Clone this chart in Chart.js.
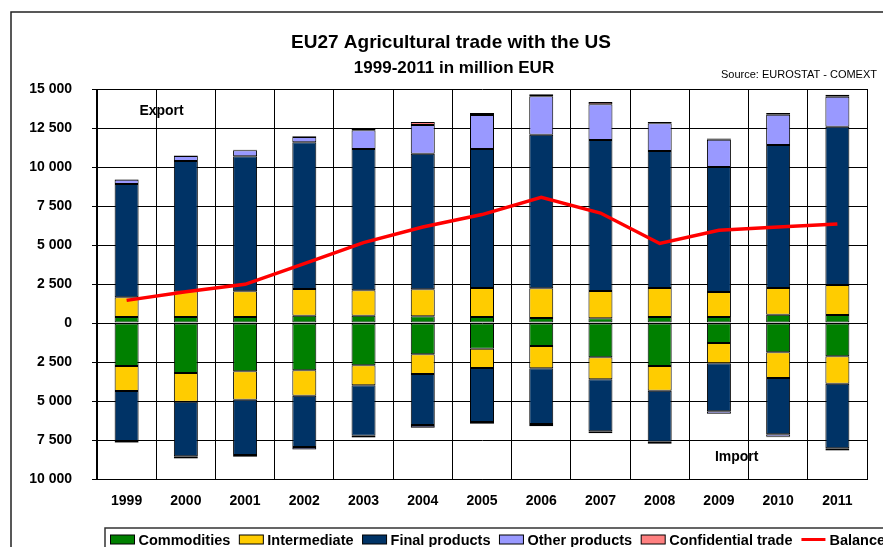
<!DOCTYPE html>
<html>
<head>
<meta charset="utf-8">
<title>EU27 Agricultural trade with the US</title>
<script src="https://cdn.jsdelivr.net/npm/chart.js@4.4.1/dist/chart.umd.min.js"></script>
<style>
  html, body { margin: 0; padding: 0; background: #fff; overflow: hidden; }
</style>
</head>
<body>
<canvas id="chart" width="883" height="547"></canvas>
<script>
const FONT = '"Liberation Sans", Arial, Helvetica, sans-serif';

// ── Data (million EUR) ─────────────────────────────────────────
const years = ['1999', '2000', '2001', '2002', '2003', '2004', '2005', '2006', '2007', '2008', '2009', '2010', '2011'];

// exports (drawn above zero)
const exportCommodities  = [385, 385, 385, 470, 470, 427, 385, 320, 299, 385, 385, 534, 513];
const exportIntermediate = [1260, 1645, 1645, 1710, 1624, 1731, 1859, 1902, 1753, 1859, 1602, 1710, 1923];
const exportFinal        = [7266, 8356, 8655, 9403, 9061, 8698, 8911, 9852, 9680, 8783, 8014, 9168, 10151];
const exportOther        = [279, 320, 385, 342, 1197, 1838, 2180, 2458, 2287, 1773, 1753, 1944, 1924];
const exportConfidential = [20, 30, 30, 40, 100, 190, 130, 130, 150, 80, 80, 100, 120];

// imports (drawn below zero)
const importCommodities  = [2757, 3206, 3099, 3035, 2714, 2009, 1645, 1475, 2201, 2757, 1282, 1881, 2137];
const importIntermediate = [1603, 1837, 1816, 1624, 1282, 1261, 1240, 1431, 1411, 1581, 1304, 1645, 1752];
const importFinal        = [3205, 3505, 3548, 3291, 3227, 3269, 3462, 3569, 3333, 3270, 3077, 3612, 4146];
const importOther        = [100, 120, 110, 140, 110, 150, 110, 130, 110, 130, 150, 160, 130];
const importConfidential = [20, 30, 20, 30, 20, 40, 20, 20, 20, 20, 20, 30, 20];

const balance = [1450, 2000, 2480, 3800, 5150, 6150, 6950, 8050, 7050, 5100, 5950, 6150, 6350];

const yTicks = { min: -10000, max: 15000, step: 2500 };

const COLORS = {
  commodities: '#008000',
  intermediate: '#FFCC00',
  final: '#003366',
  other: '#9999FF',
  confidential: '#FF8080',
  balance: '#FF0000'
};

function barSet(label, values, color, sign, inLegend) {
  return {
    type: 'bar',
    label,
    data: values.map(v => v * sign),
    backgroundColor: color,
    borderColor: '#000',
    borderWidth: 1,
    borderSkipped: false,
    stack: 'trade',
    order: 1,
    inLegend
  };
}

const datasets = [
  barSet('Commodities', exportCommodities, COLORS.commodities, 1, true),
  barSet('Intermediate', exportIntermediate, COLORS.intermediate, 1, true),
  barSet('Final products', exportFinal, COLORS.final, 1, true),
  barSet('Other products', exportOther, COLORS.other, 1, true),
  barSet('Confidential trade', exportConfidential, COLORS.confidential, 1, true),
  barSet('Commodities', importCommodities, COLORS.commodities, -1, false),
  barSet('Intermediate', importIntermediate, COLORS.intermediate, -1, false),
  barSet('Final products', importFinal, COLORS.final, -1, false),
  barSet('Other products', importOther, COLORS.other, -1, false),
  barSet('Confidential trade', importConfidential, COLORS.confidential, -1, false),
  {
    type: 'line',
    label: 'Balance',
    data: balance,
    borderColor: COLORS.balance,
    backgroundColor: COLORS.balance,
    borderWidth: 3.5,
    pointRadius: 0,
    tension: 0,
    stack: 'balance',
    order: 0,
    inLegend: true
  }
];

const fmt = v => String(Math.abs(v)).replace(/\B(?=(\d{3})+(?!\d))/g, ' ');

// titles, frame, Export/Import notes and the boxed legend
const decorations = {
  id: 'decorations',
  afterDraw(chart) {
    const { ctx, scales: { x, y } } = chart;
    ctx.save();

    ctx.strokeStyle = '#222';
    ctx.lineWidth = 1.5;
    ctx.strokeRect(11, 12, 900, 600);

    ctx.fillStyle = '#000';
    ctx.textBaseline = 'alphabetic';
    ctx.textAlign = 'center';
    ctx.font = `bold 19px ${FONT}`;
    ctx.fillText('EU27 Agricultural trade with the US', 451, 48);
    ctx.font = `bold 17px ${FONT}`;
    ctx.fillText('1999-2011 in million EUR', 454, 73);
    ctx.textAlign = 'right';
    ctx.font = `11px ${FONT}`;
    ctx.fillText('Source: EUROSTAT - COMEXT', 877, 78);

    ctx.textAlign = 'center';
    ctx.font = `bold 14px ${FONT}`;
    ctx.fillText('Export', x.getPixelForValue(0.59), y.getPixelForValue(13350));
    ctx.fillText('Import', x.getPixelForValue(10.3), y.getPixelForValue(-8850));

    // legend
    const top = 528, mid = 539.5;
    ctx.strokeStyle = '#333';
    ctx.lineWidth = 1.5;
    ctx.strokeRect(105, top, 900, 60);
    ctx.font = `bold 14.5px ${FONT}`;
    ctx.textAlign = 'left';
    ctx.textBaseline = 'middle';
    let lx = 110.5;
    chart.data.datasets.filter(d => d.inLegend).forEach(d => {
      if (d.type === 'line') {
        ctx.strokeStyle = d.borderColor;
        ctx.lineWidth = 3;
        ctx.beginPath();
        ctx.moveTo(lx, mid);
        ctx.lineTo(lx + 24, mid);
        ctx.stroke();
      } else {
        ctx.fillStyle = d.backgroundColor;
        ctx.fillRect(lx, mid - 4.5, 24, 9);
        ctx.strokeStyle = '#000';
        ctx.lineWidth = 1;
        ctx.strokeRect(lx, mid - 4.5, 24, 9);
      }
      ctx.fillStyle = '#000';
      ctx.fillText(d.label, lx + 28, mid + 1);
      lx += 28 + ctx.measureText(d.label).width + 9;
    });

    ctx.restore();
  }
};

new Chart(document.getElementById('chart'), {
  data: { labels: years, datasets },
  options: {
    responsive: false,
    animation: false,
    events: [],
    layout: { padding: { top: 89, right: 16, bottom: 40, left: 0 } },
    datasets: {
      bar: { categoryPercentage: 1, barPercentage: 0.405 }
    },
    plugins: {
      legend: { display: false },
      title: { display: false },
      tooltip: { enabled: false }
    },
    scales: {
      x: {
        stacked: true,
        grid: { color: '#000', lineWidth: 1, offset: true, drawTicks: false },
        border: { color: '#000' },
        ticks: { color: '#000', padding: 14, font: { family: FONT, size: 14, weight: 'bold' } },
        afterFit: s => { s.height = 28; }
      },
      y: {
        stacked: true,
        min: yTicks.min,
        max: yTicks.max,
        grid: { color: '#000', lineWidth: 1, tickLength: 5 },
        border: { color: '#000' },
        ticks: {
          stepSize: yTicks.step,
          color: '#000',
          padding: 20,
          font: { family: FONT, size: 14, weight: 'bold' },
          callback: v => fmt(v)
        },
        afterFit: s => { s.width = 97; }
      }
    }
  },
  plugins: [decorations]
});
</script>
</body>
</html>
